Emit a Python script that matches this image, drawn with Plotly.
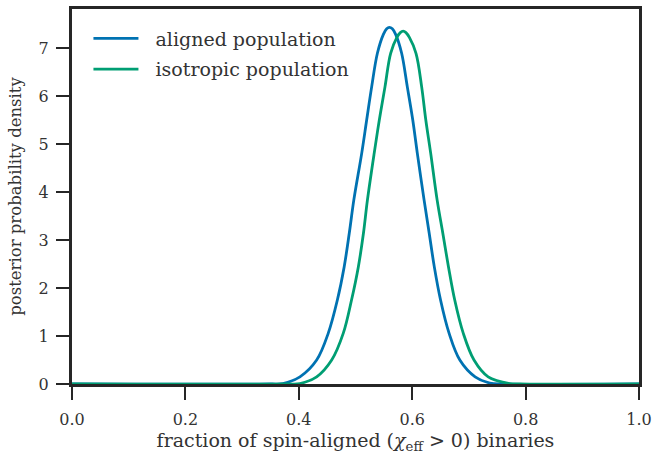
import plotly.graph_objects as go

# Posterior density of the fraction of spin-aligned binaries
aligned_x = [0.0, 0.35, 0.372, 0.402, 0.4315, 0.452, 0.468, 0.480, 0.489, 0.497,
             0.511, 0.5197, 0.5285, 0.5386, 0.549, 0.555, 0.5597, 0.565, 0.571,
             0.5814, 0.5914, 0.601, 0.609, 0.621, 0.630, 0.639, 0.650, 0.665,
             0.684, 0.711, 0.737, 0.76, 1.0]
aligned_y = [0.0, 0.0, 0.01, 0.15, 0.50, 1.06, 1.75, 2.44, 3.14, 3.83,
             4.81, 5.5, 6.19, 6.89, 7.28, 7.40, 7.43, 7.40, 7.28,
             6.89, 6.19, 5.5, 4.81, 3.83, 3.14, 2.44, 1.75, 1.06,
             0.50, 0.15, 0.02, 0.0, 0.0]

isotropic_x = [0.0, 0.38, 0.402, 0.4315, 0.458, 0.4785, 0.493, 0.505, 0.514, 0.521,
               0.533, 0.542, 0.552, 0.562, 0.573, 0.579, 0.584, 0.589, 0.595,
               0.6067, 0.6167, 0.624, 0.6326, 0.644, 0.654, 0.664, 0.675, 0.690,
               0.709, 0.734, 0.772, 0.79, 1.0]
isotropic_y = [0.0, 0.0, 0.01, 0.15, 0.50, 1.06, 1.75, 2.44, 3.14, 3.83,
               4.81, 5.5, 6.19, 6.89, 7.22, 7.32, 7.35, 7.32, 7.22,
               6.89, 6.19, 5.5, 4.81, 3.83, 3.14, 2.44, 1.75, 1.06,
               0.50, 0.15, 0.01, 0.0, 0.0]

x_ticks = [0.0, 0.2, 0.4, 0.6, 0.8, 1.0]
x_tick_labels = ["0.0", "0.2", "0.4", "0.6", "0.8", "1.0"]
y_ticks = [0, 1, 2, 3, 4, 5, 6, 7]

FONT = "DejaVu Serif"
INK = "#262626"
TEXT = "#333333"
PAD = "\u00a0\u00a0"  # gap between legend line and its label

fig = go.Figure()
fig.add_trace(go.Scatter(
    x=aligned_x, y=aligned_y, mode="lines", name=PAD + "aligned population",
    line=dict(color="#0072B2", width=2.8, shape="spline", smoothing=1.0),
    legendgroup="a",
))
fig.add_trace(go.Scatter(
    x=isotropic_x, y=isotropic_y, mode="lines", name=PAD + "isotropic population",
    line=dict(color="#009E73", width=2.8, shape="spline", smoothing=1.0),
    legendgroup="b",
))

axis_common = dict(
    showgrid=False, zeroline=False, showline=True, mirror=True,
    linecolor=INK, linewidth=3,
    ticks="outside", ticklen=13, tickwidth=1.6, tickcolor=INK,
    tickfont=dict(family=FONT, size=16, color=TEXT),
    automargin=False,
)

fig.update_layout(
    width=652, height=456,
    margin=dict(l=72, r=13, t=9, b=72),
    plot_bgcolor="white", paper_bgcolor="white",
    font=dict(family=FONT, color=TEXT),
    xaxis=dict(
        range=[0, 1], tickvals=x_ticks, ticktext=x_tick_labels,
        ticklabelstandoff=6,
        title=dict(text="fraction of spin-aligned (<i>χ</i><sub>eff</sub> > 0) binaries",
                   font=dict(family=FONT, size=19, color=TEXT), standoff=5),
        **axis_common,
    ),
    yaxis=dict(
        range=[0, 7.8125], tickvals=y_ticks,
        ticklabelstandoff=4,
        title=dict(text="posterior probability density",
                   font=dict(family=FONT, size=16.5, color=TEXT), standoff=13),
        **axis_common,
    ),
    legend=dict(
        x=0.029, y=0.972, xanchor="left", yanchor="top",
        font=dict(family=FONT, size=19, color=TEXT),
        bgcolor="rgba(0,0,0,0)", tracegroupgap=3, itemwidth=45,
    ),
    showlegend=True,
)

fig.write_html("out.html")
